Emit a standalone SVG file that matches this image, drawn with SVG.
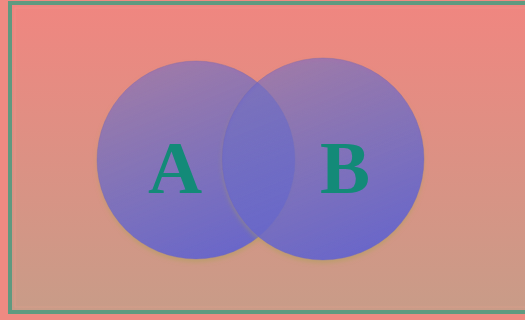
<svg xmlns="http://www.w3.org/2000/svg" width="525" height="320" viewBox="0 0 525 320">
<defs>
<linearGradient id="bg" x1="0" y1="0" x2="0" y2="1">
<stop offset="0" stop-color="#f08680"/>
<stop offset="1" stop-color="#c89c88"/>
</linearGradient>
<linearGradient id="cg" x1="0.3" y1="0" x2="0.7" y2="1">
<stop offset="0" stop-color="#6060d0" stop-opacity="0.5"/>
<stop offset="1" stop-color="#6060d0" stop-opacity="0.92"/>
</linearGradient>
<filter id="sh" x="-20%" y="-20%" width="140%" height="140%">
<feDropShadow dx="0" dy="3" stdDeviation="2" flood-color="#a8a050" flood-opacity="0.5"/>
</filter>
<style>
.set{fill:url(#cg);stroke:#7a6aa8;stroke-opacity:0.4;stroke-width:1}
.lbl{font-family:"Liberation Serif","Times New Roman",serif;font-weight:bold;font-size:75px;fill:#138a78;text-anchor:middle}
</style>
</defs>
<rect x="0" y="0" width="525" height="320" fill="#ef8a82"/>
<rect x="10" y="3" width="530" height="309" fill="url(#bg)" stroke="#5f9a80" stroke-width="4"/>
<rect x="15" y="8" width="520" height="299" fill="none" stroke="#f4a090" stroke-opacity="0.35" stroke-width="1"/>
<g id="setA" filter="url(#sh)">
<circle class="set" cx="196" cy="160" r="99"/>
</g>
<g id="setB" filter="url(#sh)">
<circle class="set" cx="323" cy="159" r="101"/>
</g>
<g id="labels">
<text class="lbl" x="175" y="193">A</text>
<text class="lbl" x="345" y="193">B</text>
</g>
</svg>
